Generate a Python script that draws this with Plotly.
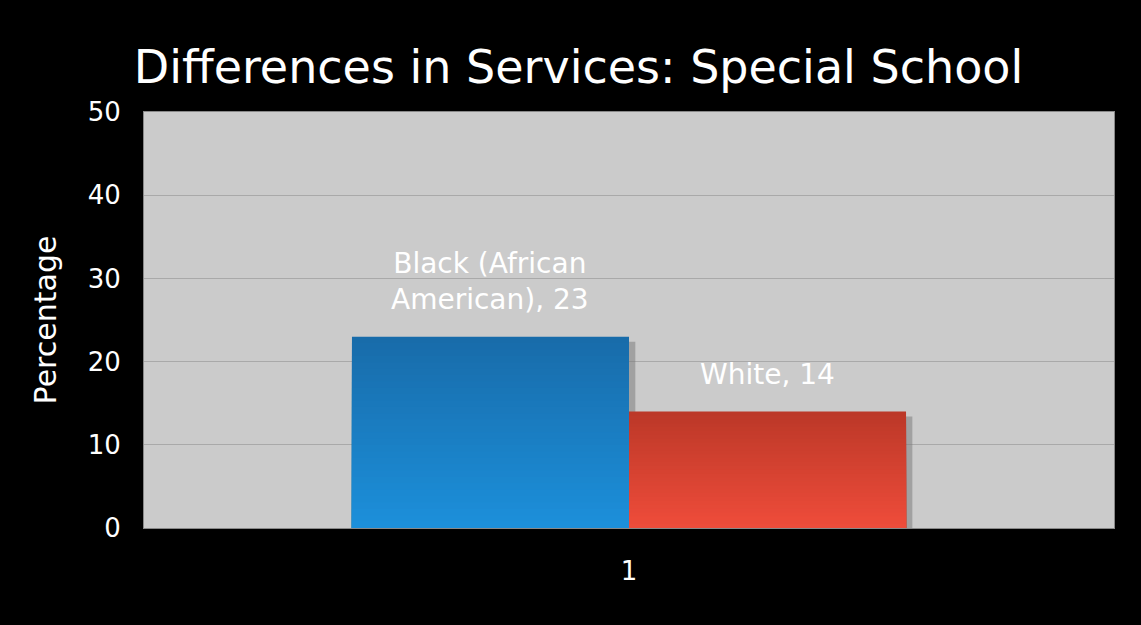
import plotly.graph_objects as go

# ---- data ----
categories = ["1"]
series_names = ["Black (African<br>American)", "White"]
series_values = [23, 14]
y_ticks = [0, 10, 20, 30, 40, 50]

title_text = "Differences in Services: Special School"
y_title = "Percentage"

# gradient colours (top, bottom) per series
grad = [((24, 108, 170), (28, 143, 218)), ((188, 56, 40), (238, 76, 58))]

FONT = "DejaVu Sans"
bar_w = 0.2856
N = 30  # gradient steps

fig = go.Figure()

# shadows
for i, v in enumerate(series_values):
    off = -bar_w + i * bar_w
    fig.add_trace(go.Bar(
        x=[0], y=[v - 0.6], width=[bar_w], offset=off + 0.0065,
        marker=dict(color="rgba(120,120,120,0.5)", line=dict(width=0)),
        hoverinfo="skip", showlegend=False))

# gradient bars: overlapping bars from base 0, tallest (top colour) drawn first
for i, v in enumerate(series_values):
    off = -bar_w + i * bar_w
    top, bot = grad[i]
    for k in range(N, 0, -1):
        h = v * k / N
        t = (k - 1) / (N - 1)
        c = tuple(int(round(bot[j] + (top[j] - bot[j]) * t)) for j in range(3))
        fig.add_trace(go.Bar(
            x=[0], y=[h], width=[bar_w], offset=off,
            marker=dict(color="rgb(%d,%d,%d)" % c, line=dict(width=0)),
            hoverinfo="skip", showlegend=False))

for i, v in enumerate(series_values):
    off = -bar_w + i * bar_w
    fig.add_annotation(
        x=off + bar_w / 2, y=v, xref="x", yref="y",
        text="%s, %d" % (series_names[i], v),
        showarrow=False, yanchor="bottom", yshift=19,
        font=dict(family=FONT, size=28, color="white"))

fig.update_layout(
    width=1141, height=625,
    barmode="overlay",
    paper_bgcolor="black", plot_bgcolor="#cbcbcb",
    margin=dict(l=144, r=27, t=112, b=97),
    showlegend=False,
    title=dict(text=title_text, x=0.507, xanchor="center", y=0.893, yanchor="middle",
               font=dict(family=FONT, size=46, color="white")),
    xaxis=dict(range=[-0.5, 0.5], tickvals=[0], ticktext=categories,
               showgrid=False, zeroline=False, showline=True, linecolor="#888888",
               mirror=True, linewidth=1, ticks="outside", ticklen=20, tickcolor="black",
               tickfont=dict(family=FONT, size=26, color="white")),
    yaxis=dict(range=[0, 50], tickvals=y_ticks, showgrid=True, gridcolor="#a9a9a9",
               gridwidth=1, zeroline=False, showline=True, linecolor="#888888",
               mirror=True, linewidth=1, ticks="outside", ticklen=17, tickcolor="black",
               tickfont=dict(family=FONT, size=26, color="white"),
               title=dict(text=y_title, standoff=22, font=dict(family=FONT, size=30, color="white"))),
)

fig.write_html("out.html")
